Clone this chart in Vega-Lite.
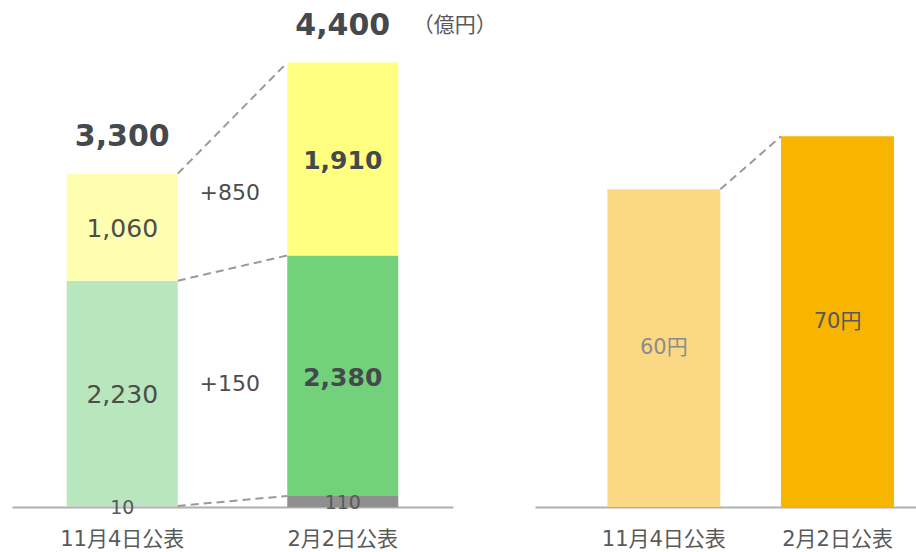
{
  "$schema": "https://vega.github.io/schema/vega-lite/v6.json",
  "background": "white",
  "padding": {"left": 12, "top": 7, "right": 0, "bottom": 0},
  "bounds": "flush",
  "spacing": 82,
  "resolve": {"scale": {"color": "independent"}},
  "config": {
    "view": {"stroke": null},
    "font": "'DejaVu Sans', 'Noto Sans CJK JP', sans-serif",
    "text": {"font": "'DejaVu Sans', 'Noto Sans CJK JP', sans-serif"},
    "axisX": {
      "title": null,
      "ticks": false,
      "tickSize": 0,
      "grid": false,
      "labelAngle": 0,
      "labelFont": "'DejaVu Sans', 'Noto Sans CJK JP', sans-serif",
      "labelFontSize": 21,
      "labelColor": "#595959",
      "labelPadding": 21,
      "domainColor": "#b0b0b0",
      "domainWidth": 2
    }
  },
  "datasets": {
    "segs": [
      {"date": "11月4日公表", "seg": "gray", "key": "old_gray", "ord": 1, "value": 10},
      {"date": "11月4日公表", "seg": "green", "key": "old_green", "ord": 2, "value": 2230},
      {"date": "11月4日公表", "seg": "yellow", "key": "old_yellow", "ord": 3, "value": 1060},
      {"date": "2月2日公表", "seg": "gray", "key": "new_gray", "ord": 1, "value": 110},
      {"date": "2月2日公表", "seg": "green", "key": "new_green", "ord": 2, "value": 2380},
      {"date": "2月2日公表", "seg": "yellow", "key": "new_yellow", "ord": 3, "value": 1910}
    ],
    "totals": [
      {"date": "11月4日公表", "total": 3300},
      {"date": "2月2日公表", "total": 4400}
    ],
    "links": [
      {"from": "11月4日公表", "to": "2月2日公表", "y1": 3300, "y2": 4400},
      {"from": "11月4日公表", "to": "2月2日公表", "y1": 2240, "y2": 2490},
      {"from": "11月4日公表", "to": "2月2日公表", "y1": 10, "y2": 110}
    ],
    "diffs": [
      {"seg": "yellow", "diff": 850, "level": 3108},
      {"seg": "green", "diff": 150, "level": 1215}
    ],
    "dps": [
      {"date": "11月4日公表", "value": 60, "label": "60円"},
      {"date": "2月2日公表", "value": 70, "label": "70円"}
    ],
    "dpslink": [
      {"from": "11月4日公表", "to": "2月2日公表", "y1": 60, "y2": 70}
    ]
  },
  "hconcat": [
    {
      "width": 441,
      "height": 500,
      "layer": [
        {
          "data": {"name": "segs"},
          "mark": {"type": "bar"},
          "encoding": {
            "x": {"field": "date", "type": "nominal", "scale": {"domain": ["11月4日公表", "2月2日公表"], "paddingInner": 0.4966, "paddingOuter": 0.2483}},
            "y": {"field": "value", "type": "quantitative", "stack": "zero", "scale": {"domain": [0, 4950], "nice": false}, "axis": null},
            "color": {"field": "key", "type": "nominal", "legend": null, "scale": {"domain": ["old_gray", "old_green", "old_yellow", "new_gray", "new_green", "new_yellow"], "range": ["#cfcfcf", "#b8e6bd", "#fffdb0", "#8f8f8f", "#73d17b", "#ffff80"]}},
            "order": {"field": "ord", "type": "quantitative"}
          }
        },
        {
          "data": {"name": "segs"},
          "transform": [{"filter": "datum.date === '11月4日公表'"}],
          "mark": {"type": "text", "fontSize": 25, "color": "#4d4d4d", "baseline": "middle", "dy": 2},
          "encoding": {
            "x": {"field": "date", "type": "nominal"},
            "y": {"field": "value", "type": "quantitative", "stack": "zero", "bandPosition": 0.5},
            "order": {"field": "ord", "type": "quantitative"},
            "text": {"condition": {"test": "datum.seg === 'gray'", "value": ""}, "field": "value", "format": ","}
          }
        },
        {
          "data": {"name": "segs"},
          "transform": [{"filter": "datum.date === '2月2日公表'"}],
          "mark": {"type": "text", "fontSize": 25, "fontWeight": "bold", "color": "#45494d", "baseline": "middle", "dy": 2},
          "encoding": {
            "x": {"field": "date", "type": "nominal"},
            "y": {"field": "value", "type": "quantitative", "stack": "zero", "bandPosition": 0.5},
            "order": {"field": "ord", "type": "quantitative"},
            "text": {"condition": {"test": "datum.seg === 'gray'", "value": ""}, "field": "value", "format": ","}
          }
        },
        {
          "data": {"name": "segs"},
          "transform": [{"filter": "datum.seg === 'gray'"}],
          "mark": {"type": "text", "fontSize": 19, "color": "#595959", "baseline": "middle", "dy": 2},
          "encoding": {
            "x": {"field": "date", "type": "nominal"},
            "y": {"field": "value", "type": "quantitative", "stack": "zero", "bandPosition": 0.5},
            "text": {"field": "value", "format": ","}
          }
        },
        {
          "data": {"name": "totals"},
          "mark": {"type": "text", "fontSize": 30, "fontWeight": "bold", "color": "#45494d", "baseline": "middle", "dy": -37},
          "encoding": {
            "x": {"field": "date", "type": "nominal"},
            "y": {"field": "total", "type": "quantitative"},
            "text": {"field": "total", "format": ","}
          }
        },
        {
          "data": {"name": "links"},
          "mark": {"type": "rule", "color": "#999999", "strokeWidth": 2, "strokeDash": [8, 5]},
          "encoding": {
            "x": {"field": "from", "type": "nominal", "bandPosition": 1},
            "x2": {"field": "to", "bandPosition": 0},
            "y": {"field": "y1", "type": "quantitative"},
            "y2": {"field": "y2"}
          }
        },
        {
          "data": {"name": "diffs"},
          "mark": {"type": "text", "fontSize": 22, "color": "#4d4d4d", "baseline": "middle", "dx": 52},
          "encoding": {
            "x": {"datum": "11月4日公表", "type": "nominal", "bandPosition": 1},
            "y": {"field": "level", "type": "quantitative"},
            "text": {"field": "diff", "format": "+,"}
          }
        },
        {
          "data": {"values": [{"unit": "（億円）"}]},
          "mark": {"type": "text", "fontSize": 21, "color": "#595959", "baseline": "middle", "dx": 112, "dy": -37},
          "encoding": {
            "x": {"datum": "2月2日公表", "type": "nominal", "bandPosition": 0.5},
            "y": {"datum": 4400, "type": "quantitative"},
            "text": {"field": "unit"}
          }
        }
      ]
    },
    {
      "width": 381,
      "height": 500,
      "layer": [
        {
          "data": {"name": "dps"},
          "mark": {"type": "bar"},
          "encoding": {
            "x": {"field": "date", "type": "nominal", "scale": {"domain": ["11月4日公表", "2月2日公表"], "paddingInner": 0.3495, "paddingOuter": 0.2715, "align": 0.767}},
            "y": {"field": "value", "type": "quantitative", "scale": {"domain": [0, 94.43], "nice": false}, "axis": null},
            "color": {"field": "date", "type": "nominal", "legend": null, "scale": {"domain": ["11月4日公表", "2月2日公表"], "range": ["#fbd984", "#f7b500"]}}
          }
        },
        {
          "data": {"name": "dps"},
          "mark": {"type": "text", "fontSize": 21, "baseline": "middle"},
          "encoding": {
            "x": {"field": "date", "type": "nominal"},
            "y": {"field": "value", "type": "quantitative", "stack": "zero", "bandPosition": 0.5},
            "text": {"field": "label"},
            "color": {"condition": {"test": "datum.date === '11月4日公表'", "value": "#8c8c8c"}, "value": "#595959"}
          }
        },
        {
          "data": {"name": "dpslink"},
          "mark": {"type": "rule", "color": "#999999", "strokeWidth": 2, "strokeDash": [8, 5]},
          "encoding": {
            "x": {"field": "from", "type": "nominal", "bandPosition": 1},
            "x2": {"field": "to", "bandPosition": 0},
            "y": {"field": "y1", "type": "quantitative"},
            "y2": {"field": "y2"}
          }
        }
      ]
    }
  ]
}
